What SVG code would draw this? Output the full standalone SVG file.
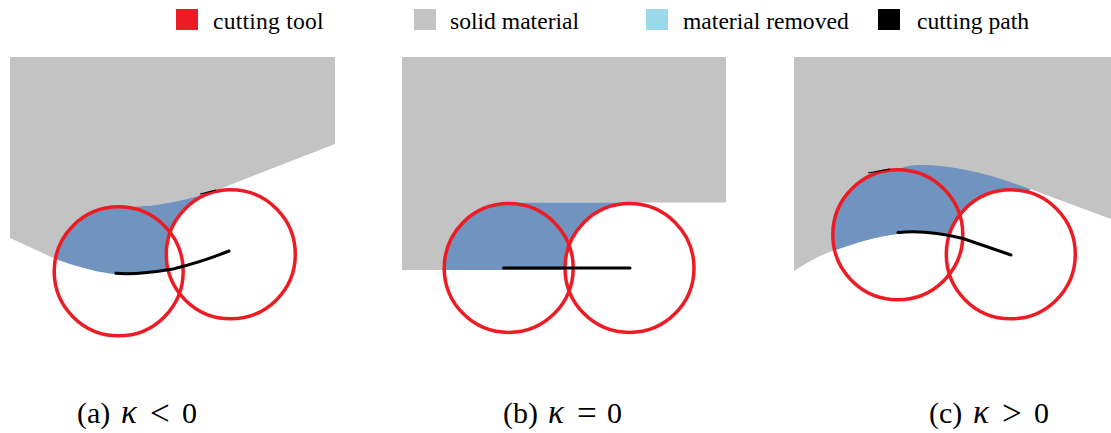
<svg xmlns="http://www.w3.org/2000/svg" width="1111" height="433" viewBox="0 0 1111 433">
<style>
text{font-family:"Liberation Serif","Times New Roman",serif;fill:#000}
.lg{font-size:23.6px}
.cap{font-size:30px}
.k{font-style:italic;font-size:33px}
.op{font-size:35px}
.solid{fill:#c3c3c3}
.rem{fill:#7094bf}
.tool{fill:none;stroke:#ed1c24;stroke-width:3.5}
.front{fill:#fff}
.path{fill:none;stroke:#000;stroke-width:3;stroke-linecap:round}
.bit{fill:none;stroke:#000;stroke-width:1.2}
</style>
<rect width="1111" height="433" fill="#fff"/>
<g id="legend">
<g id="legend-tool"><rect x="176" y="9" width="22" height="21" fill="#ed1c24"/><text class="lg" x="213" y="29" textLength="110.500">cutting tool</text></g>
<g id="legend-solid"><rect x="414" y="9" width="22" height="21" fill="#c3c3c3"/><text class="lg" x="450" y="29">solid material</text></g>
<g id="legend-removed"><rect x="646" y="9" width="22" height="21" fill="#99d9ea"/><text class="lg" x="683" y="29">material removed</text></g>
<g id="legend-path"><rect x="878" y="9" width="22" height="21" fill="#000"/><text class="lg" x="917" y="29">cutting path</text></g>
</g>
<g id="panel-a">
<path class="solid" d="M10 57H335V144L217 190C190 199 165 205 143 206L55.500 259 10 238Z"/>
<path class="rem" d="M55.500 259A64.500 64.500 0 0 1 119 206.800C127 207.200 135 206.800 143 206 165 205 190 199 217 190L230 254 167 269C150 273 130 275 113 274 92 271 75 266 55.500 259Z"/>
<circle class="tool front" cx="230.800" cy="254.300" r="64.500"/>
<circle class="tool" cx="118.700" cy="271.300" r="64.500"/>
<path class="path" d="M116 273.300C135 275 155 272 173 269 193 264 212 258 229 251"/>
<path class="bit" d="M200 194 216 190"/>
<text class="cap" x="77" y="423">(a)</text><text class="cap k" x="121" y="423">κ</text><text class="cap op" x="150" y="425">&lt;</text><text class="cap" x="182" y="423">0</text>
</g>
<g id="panel-b">
<path class="solid" d="M402 57H726V202.500H510L445 270H402Z"/>
<path class="rem" d="M444.300 270A64.500 64.500 0 0 1 508.700 203L508.700 202.500H630V268H566V270Z"/>
<circle class="tool front" cx="629.500" cy="268" r="64.500"/>
<circle class="tool" cx="508.700" cy="268" r="64.500"/>
<path class="path" stroke-linecap="butt" d="M503.500 268H630"/>
<text class="cap" x="503" y="423">(b)</text><text class="cap k" x="548" y="423">κ</text><text class="cap op" x="577" y="425">=</text><text class="cap" x="607" y="423">0</text>
</g>
<g id="panel-c">
<path class="solid" d="M794 57H1111V219L1030 189 897 234C875 237 855 243 835 250 820 255 806 263 794 271Z"/>
<path class="rem" d="M834.700 250.500A65 65 0 0 1 897.800 169.700C905 166 912 165 920 165 955 165 990 174 1030 189L1011 255 948 234C930 231 915 231 897 234 875 237 855 243 834.700 250.500Z"/>
<circle class="tool front" cx="1010.800" cy="254.300" r="64.500"/>
<circle class="tool" cx="897.800" cy="234.700" r="65"/>
<path class="path" d="M898 232.500C922 230 945 234 963 238.500L1011 255"/>
<path class="bit" d="M868 173 890 169"/>
<text class="cap" x="929" y="423">(c)</text><text class="cap k" x="973" y="423">κ</text><text class="cap op" x="1002" y="425">&gt;</text><text class="cap" x="1034" y="423">0</text>
</g>
</svg>
